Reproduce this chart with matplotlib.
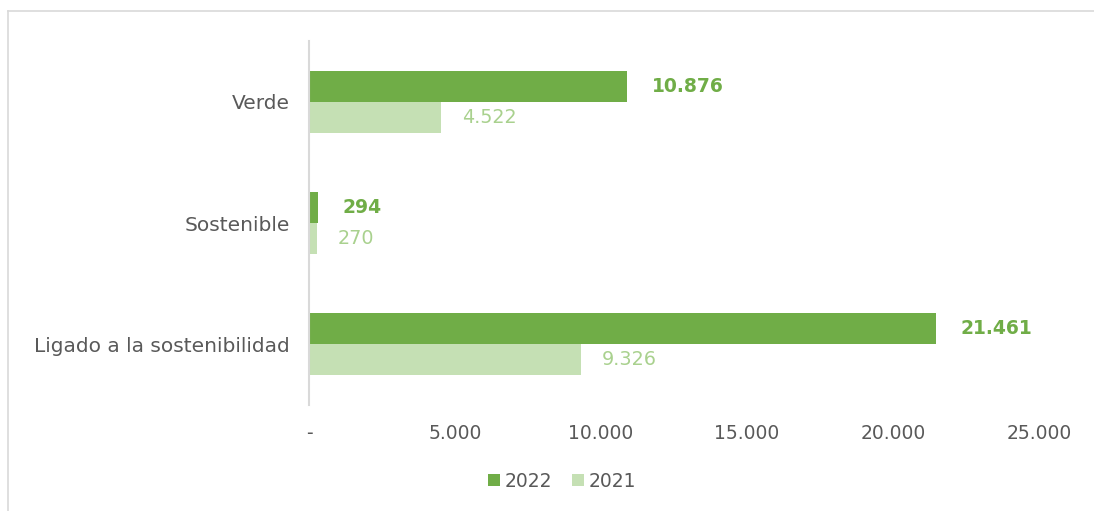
import numpy as np
import matplotlib.pyplot as plt
from matplotlib.lines import Line2D

categorias = ['Verde', 'Sostenible', 'Ligado a la sostenibilidad']
valores_2022 = [10876, 294, 21461]
valores_2021 = [4522, 270, 9326]
ticks_x = [0, 5000, 10000, 15000, 20000, 25000]

VERDE = '#70AD47'
VERDE_CLARO = '#C5E0B4'
TEXTO_CLARO = '#A9D18E'
GRIS = '#595959'

plt.rcParams['font.family'] = ['DejaVu Sans']


def fmt(v):
    return '-' if v == 0 else f'{v:,}'.replace(',', '.')


fig = plt.figure(figsize=(10.94, 5.11), dpi=100)
ax = fig.add_axes([309 / 1094, 1 - 405 / 511, (1039 - 309) / 1094, (405 - 41) / 511])

# marco del grafico (solo arriba e izquierda visibles)
x0, y0 = 8 / 1094, 1 - 11 / 511
fig.lines.append(Line2D([x0, 1], [y0, y0], transform=fig.transFigure, color='#D9D9D9', linewidth=1.2))
fig.lines.append(Line2D([x0, x0], [0, y0], transform=fig.transFigure, color='#D9D9D9', linewidth=1.2))

y = np.arange(len(categorias))[::-1]
h = 0.255
b1 = ax.barh(y + h / 2, valores_2022, height=h, color=VERDE, label='2022')
b2 = ax.barh(y - h / 2, valores_2021, height=h, color=VERDE_CLARO, label='2021')

for rect, v in zip(b1, valores_2022):
    ax.annotate(fmt(v), (rect.get_width(), rect.get_y() + rect.get_height() / 2),
                xytext=(18, 0), textcoords='offset points', va='center', ha='left',
                color=VERDE, fontsize=13.5, fontweight='bold')
for rect, v in zip(b2, valores_2021):
    ax.annotate(fmt(v), (rect.get_width(), rect.get_y() + rect.get_height() / 2),
                xytext=(15, 0), textcoords='offset points', va='center', ha='left',
                color=TEXTO_CLARO, fontsize=13.8)

ax.set_xlim(0, 25000)
ax.set_ylim(-0.5, 2.5)
ax.set_yticks(y)
ax.set_yticklabels(categorias, fontsize=14.5, color=GRIS)
ax.set_xticks(ticks_x)
ax.set_xticklabels([fmt(t) for t in ticks_x], fontsize=13.5, color=GRIS)
ax.tick_params(length=0)
ax.tick_params(axis='y', pad=14)
ax.tick_params(axis='x', pad=14)

for s in ['top', 'right', 'bottom']:
    ax.spines[s].set_visible(False)
ax.spines['left'].set_color('#D9D9D9')
ax.spines['left'].set_linewidth(1.5)

fig.legend(handles=[b1, b2], labels=['2022', '2021'], loc='center', bbox_to_anchor=(562 / 1094, 1 - 481 / 511),
           ncol=2, frameon=False, fontsize=13.5, handlelength=0.6, handleheight=0.6,
           handletextpad=0.25, columnspacing=1.1, labelcolor=GRIS)

fig.savefig('out.png', dpi=100)
